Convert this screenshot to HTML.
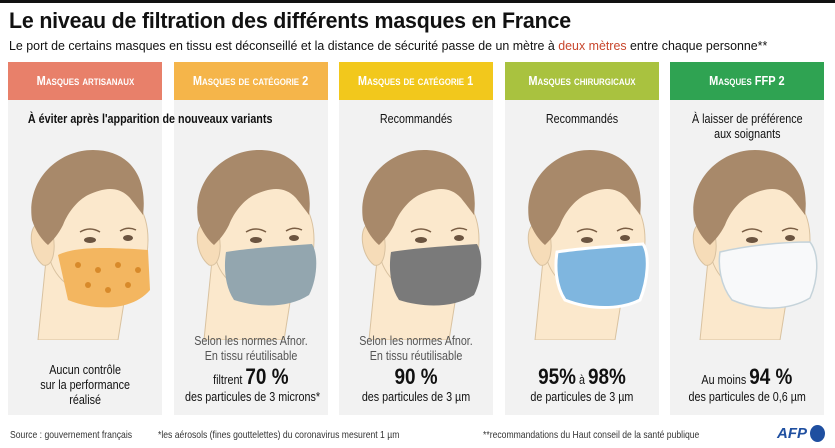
<!DOCTYPE html>
<html><head><meta charset="utf-8"><style>
*{margin:0;padding:0;box-sizing:border-box}
body{width:835px;height:448px;background:#fff;font-family:"Liberation Sans",sans-serif;position:relative;overflow:hidden;color:#111}
.topbar{position:absolute;left:0;top:0;width:835px;height:3px;background:#111}
h1{position:absolute;left:9px;top:8px;font-size:22.5px;font-weight:bold;letter-spacing:-0.2px;white-space:nowrap;transform:scaleX(0.95);transform-origin:left}
.sub{position:absolute;left:9px;top:38px;font-size:12.8px;transform:scaleX(0.97);transform-origin:left;white-space:nowrap}
.sub span{color:#c8462c}
.col{position:absolute;top:62px;width:154px;height:353px;background:#f2f2f2}
.hd{height:38px;color:#fff;font-weight:bold;font-size:12.5px;text-align:center;line-height:38px;font-variant:small-caps;white-space:nowrap}
.hd span{display:inline-block;transform:scaleX(0.88)}
.t{position:absolute;left:0;width:100%;text-align:center;font-size:12.5px;line-height:15px}
.c{transform:scaleX(0.86);display:inline-block;white-space:nowrap}
.big{font-size:22px;font-weight:bold}
svg.head{position:absolute;left:0;top:78px}
.foot{position:absolute;top:429px;font-size:10.5px;color:#333;white-space:nowrap;transform:scaleX(0.82);transform-origin:left}
</style></head><body>
<div class="topbar"></div>
<h1>Le niveau de filtration des différents masques en France</h1>
<div class="sub">Le port de certains masques en tissu est déconseillé et la distance de sécurité passe de un mètre à <span>deux mètres</span> entre chaque personne**</div>

<svg width="0" height="0" style="position:absolute"><defs>
<symbol id="h" viewBox="0 0 154 200">
<path d="M38 120 L30 200 L110 200 L118 150 Z" fill="#fbe8cc" stroke="#d9c2a0" stroke-width="1"/>
<path d="M40 80 C40 55 70 40 100 45 C125 50 140 70 140 100 C140 130 125 150 100 155 C75 158 50 145 42 120 Z" fill="#fbe8cc" stroke="#d9c2a0"/>
<path d="M28 85 C20 90 22 115 35 125 C45 128 48 110 45 95 Z" fill="#f6dcb8" stroke="#d9c2a0"/>
<path d="M24 80 C18 40 50 10 85 10 C120 10 140 35 135 75 C130 68 125 62 122 58 C110 45 95 48 80 55 C70 60 60 72 55 85 C50 95 45 100 40 105 C34 100 28 92 24 80 Z" fill="#a8896a"/>
<ellipse cx="82" cy="100" rx="6" ry="3" fill="#6b5440"/>
<ellipse cx="120" cy="98" rx="5" ry="3" fill="#6b5440"/>
<path d="M72 92 Q82 86 92 92 M112 91 Q120 86 128 90" stroke="#7a5e44" stroke-width="1.5" fill="none"/>
</symbol>
</defs></svg>

<div class="col" style="left:8px;z-index:2"><div class="hd" style="background:#e8806a"><span>Masques artisanaux</span></div>
<div class="t" style="top:50px;font-weight:bold"><span class="c">À éviter après l'apparition de nouveaux variants</span></div>
<svg class="head" width="154" height="200"><use href="#h"/><path d="M50 115 C70 105 110 108 140 110 L142 150 C125 170 90 172 60 160 Z" fill="#f3b660"/>
<g fill="#d88a2a"><circle cx="70" cy="125" r="3"/><circle cx="90" cy="130" r="3"/><circle cx="110" cy="125" r="3"/><circle cx="130" cy="130" r="3"/><circle cx="80" cy="145" r="3"/><circle cx="100" cy="150" r="3"/><circle cx="120" cy="145" r="3"/></g></svg>
<div class="t" style="top:301px"><span class="c">Aucun contrôle<br>sur la performance<br>réalisé</span></div></div>

<div class="col" style="left:174px"><div class="hd" style="background:#f5b54a"><span>Masques de catégorie 2</span></div>
<svg class="head" width="154" height="200"><use href="#h"/><path d="M52 112 C75 108 110 106 138 104 C145 115 143 140 135 155 C115 168 85 168 60 160 C50 145 50 125 52 112 Z" fill="#93a6af"/></svg>
<div class="t" style="top:272px;color:#555"><span class="c">Selon les normes Afnor.<br>En tissu réutilisable</span></div>
<div class="t" style="top:303px;line-height:24px"><span class="c">filtrent <b class="big">70 %</b></span></div>
<div class="t" style="top:328px"><span class="c">des particules de 3 microns*</span></div></div>

<div class="col" style="left:339px"><div class="hd" style="background:#f2c81c"><span>Masques de catégorie 1</span></div>
<div class="t" style="top:50px"><span class="c">Recommandés</span></div>
<svg class="head" width="154" height="200"><use href="#h"/><path d="M52 112 C75 108 110 106 138 104 C145 115 143 140 135 155 C115 168 85 168 60 160 C50 145 50 125 52 112 Z" fill="#7a7a7a"/></svg>
<div class="t" style="top:272px;color:#555"><span class="c">Selon les normes Afnor.<br>En tissu réutilisable</span></div>
<div class="t" style="top:303px;line-height:24px"><span class="c"><b class="big">90 %</b></span></div>
<div class="t" style="top:328px"><span class="c">des particules de 3 µm</span></div></div>

<div class="col" style="left:505px"><div class="hd" style="background:#a9c23f"><span>Masques chirurgicaux</span></div>
<div class="t" style="top:50px"><span class="c">Recommandés</span></div>
<svg class="head" width="154" height="200"><use href="#h"/><path d="M52 112 C75 108 110 106 138 104 C145 115 143 140 135 160 C115 170 85 170 60 160 C50 145 50 125 52 112 Z" fill="#7fb6df" stroke="#fff" stroke-width="3"/></svg>
<div class="t" style="top:303px;line-height:24px"><span class="c"><b class="big">95%</b> à <b class="big">98%</b></span></div>
<div class="t" style="top:328px"><span class="c">de particules de 3 µm</span></div></div>

<div class="col" style="left:670px"><div class="hd" style="background:#2fa352"><span>Masques FFP 2</span></div>
<div class="t" style="top:50px"><span class="c">À laisser de préférence<br>aux soignants</span></div>
<svg class="head" width="154" height="200"><use href="#h"/><path d="M50 112 C75 106 110 102 140 102 C150 115 148 140 140 158 C120 170 90 172 62 160 C50 145 48 125 50 112 Z" fill="#f8f9fa" stroke="#c5d3da" stroke-width="1.5"/></svg>
<div class="t" style="top:303px;line-height:24px"><span class="c">Au moins <b class="big">94 %</b></span></div>
<div class="t" style="top:328px"><span class="c">des particules de 0,6 µm</span></div></div>

<div class="foot" style="left:10px">Source : gouvernement français</div>
<div class="foot" style="left:158px">*les aérosols (fines gouttelettes) du coronavirus mesurent 1 µm</div>
<div class="foot" style="left:483px">**recommandations du Haut conseil de la santé publique</div>
<div style="position:absolute;left:777px;top:425px;font-weight:bold;font-style:italic;font-size:15px;color:#1f4fa0">AFP</div>
<div style="position:absolute;left:810px;top:425px;width:15px;height:17px;border-radius:50%;background:#1f4fa0"></div>
</body></html>
